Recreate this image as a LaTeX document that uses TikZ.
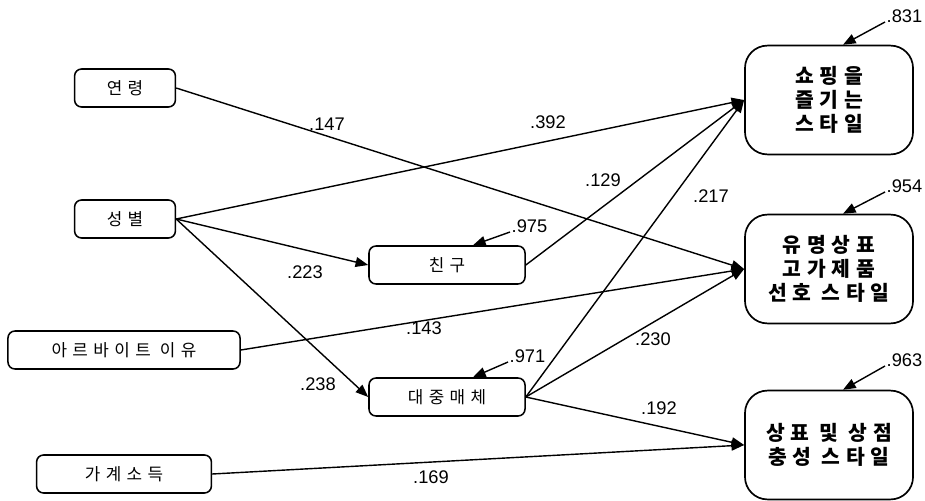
\documentclass[tikz,border=0pt]{standalone}
\usepackage{fontspec}
\setmainfont{Liberation Sans}
\newfontfamily\krsmall[LetterSpace=32]{Noto Sans CJK KR}
\newfontfamily\krbig[LetterSpace=28]{Noto Sans CJK KR}
\usetikzlibrary{arrows.meta,positioning}
\tikzset{
  varbox/.style={
    rectangle, draw, rounded corners=5pt, line width=1.1pt,
    minimum height=0.95cm, inner sep=2pt,
    font=\krsmall\fontsize{12}{14}\selectfont, align=center
  },
  stylebox/.style={
    rectangle, draw, rounded corners=16pt, line width=1.2pt,
    minimum width=4.2cm, minimum height=2.72cm, inner sep=2pt,
    font=\krbig\bfseries\fontsize{14.5}{17}\selectfont, align=center
  },
  path/.style={
    -{Triangle[length=9pt, width=7pt]}, line width=1pt
  },
  coef/.style={
    font=\fontsize{13}{15}\selectfont, inner sep=1pt
  },
  resid/.style={
    coef, anchor=base west
  },
}
\begin{document}
\begin{tikzpicture}[x=0.025cm, y=-0.025cm]
  \useasboundingbox (0,0) rectangle (925,500);

  % exogenous variables
  \node[varbox, minimum width=2.52cm] (age) at (125,88) {연령};
  \node[varbox, minimum width=2.52cm] (sex) at (125,219) {성별};
  \node[varbox, minimum width=5.8cm] (job) at (124,350) {아르바이트 이유};
  \node[varbox, minimum width=4.37cm] (income) at (124,474) {가계소득};

  % mediators
  \node[varbox, minimum width=3.9cm] (friend) at (447,265) {친구};
  \node[varbox, minimum width=3.9cm] (media) at (447,397) {대중매체};

  % shopping styles
  \node[stylebox] (fun) at (829,100) {쇼핑을\\즐기는\\스타일};
  \node[stylebox] (brand) at (829,269) {유명상표\\고가제품\\선호 스타일};
  \node[stylebox] (loyal) at (829,445) {상표 및 상점\\충성 스타일};

  % paths
  \draw[path] (age.east) -- (brand.west);
  \draw[path] (sex.east) -- (fun.west);
  \draw[path] (sex.east) -- (friend.west);
  \draw[path] (sex.east) -- (media.west);
  \draw[path] (friend.east) -- (fun.west);
  \draw[path] (media.east) -- (fun.west);
  \draw[path] (media.east) -- (brand.west);
  \draw[path] (media.east) -- (loyal.west);
  \draw[path] (job.east) -- (brand.west);
  \draw[path] (income.east) -- (loyal.west);

  % coefficients
  \node[coef] (c147) at (327,124) {.147};
  \node[coef] (c392) at (548,122) {.392};
  \node[coef] (c129) at (603,180) {.129};
  \node[coef] (c217) at (711,196) {.217};
  \node[coef] (c223) at (305,272) {.223};
  \node[coef] (c143) at (424,328) {.143};
  \node[coef] (c230) at (653,339) {.230};
  \node[coef] (c238) at (318,384) {.238};
  \node[coef] (c192) at (659,408) {.192};
  \node[coef] (c169) at (431,477) {.169};

  % residuals
  \node[resid] (e831) at (885,22) {.831};
  \node[resid] (e954) at (885,192) {.954};
  \node[resid] (e963) at (885,366) {.963};
  \node[resid] (e975) at (510,232) {.975};
  \node[resid] (e971) at (508,362) {.971};
  \draw[path] (e831.base west) -- ([xshift=0.35cm]fun.north);
  \draw[path] (e954.base west) -- ([xshift=0.35cm]brand.north);
  \draw[path] (e963.base west) -- ([xshift=0.35cm]loyal.north);
  \draw[path] (e975.base west) -- ([xshift=0.65cm]friend.north);
  \draw[path] (e971.base west) -- ([xshift=0.65cm]media.north);
\end{tikzpicture}
\end{document}
